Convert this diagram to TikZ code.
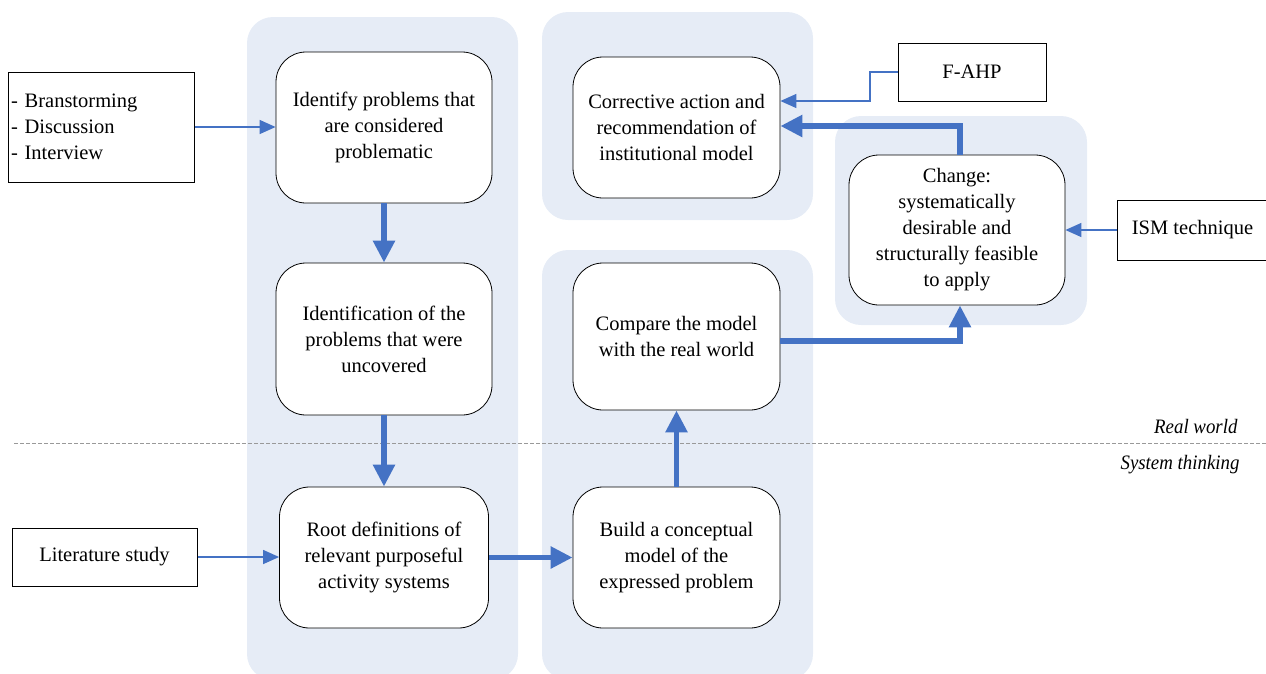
\documentclass[tikz,border=0pt]{standalone}
\usepackage{fontspec}
\setmainfont{Liberation Serif}
\usetikzlibrary{arrows.meta}
\definecolor{panelblue}{HTML}{E6ECF6}
\definecolor{flowblue}{HTML}{4472C4}
\tikzset{
  panel/.style={fill=panelblue, draw=none, rounded corners=26pt},
  proc/.style={draw=black, line width=0.8pt, fill=white, rounded corners=30pt,
    align=center, font=\fontsize{20.5}{26}\selectfont, inner sep=2pt},
  srcbox/.style={draw=black, line width=1pt, fill=white, align=center,
    font=\fontsize{20.5}{26}\selectfont, inner sep=2pt},
  thick flow/.style={draw=flowblue, line width=5.5pt,
    -{Triangle[width=21pt,length=22pt]}},
  thin flow/.style={draw=flowblue, line width=1.3pt,
    -{Triangle[width=14pt,length=16pt]}},
  zone/.style={font=\fontsize{20.5}{22}\selectfont\itshape, anchor=east},
}
\begin{document}
\begin{tikzpicture}[x=1pt,y=-1pt]
\useasboundingbox (0,0) rectangle (1266,673);
\begin{scope}
  \clip (0,0) rectangle (1266,673);
  % shaded stage panels
  \path[panel] (247,17) rectangle (518,680);
  \path[panel] (542,12) rectangle (813,220);
  \path[panel] (542,250) rectangle (813,680);
  \path[panel] (835,116) rectangle (1087,325);

  % boundary between the two worlds
  \draw[gray!80, line width=0.8pt, dash pattern=on 4pt off 2pt] (14,443) -- (1266,443);
  \node[zone] (rw) at (1241,426) {\scalebox{0.92}[1]{Real world}};
  \node[zone] (st) at (1243,465) {\scalebox{0.92}[1]{System thinking}};

  % process steps
  \node[proc, minimum width=216pt, minimum height=151pt] (A) at (384,127.5)
    {Identify problems that\\are considered\\problematic};
  \node[proc, minimum width=216pt, minimum height=152pt] (B) at (384,339)
    {Identification of the\\problems that were\\uncovered};
  \node[proc, minimum width=209pt, minimum height=141pt] (C) at (384,557.5)
    {Root definitions of\\relevant purposeful\\activity systems};
  \node[proc, minimum width=207pt, minimum height=141pt] (D) at (676.5,557.5)
    {Build a conceptual\\model of the\\expressed problem};
  \node[proc, minimum width=207pt, minimum height=147pt] (E) at (676.5,336.5)
    {Compare the model\\with the real world};
  \node[proc, minimum width=207pt, minimum height=141pt] (F) at (676.5,127.5)
    {Corrective action and\\recommendation of\\institutional model};
  \node[proc, minimum width=216pt, minimum height=150pt] (G) at (957,230)
    {Change:\\systematically\\desirable and\\structurally feasible\\to apply};

  % supporting inputs
  \node[srcbox, minimum width=186pt, minimum height=110pt, text width=180pt, align=left] (src) at (101,127)
    {- Branstorming\\- Discussion\\- Interview};
  \node[srcbox, minimum width=148pt, minimum height=58pt] (ahp) at (972,72) {F-AHP};
  \node[srcbox, minimum width=150pt, minimum height=60pt, anchor=west] (ism) at (1117,230) {ISM technique};
  \node[srcbox, minimum width=185pt, minimum height=58pt] (lit) at (104.5,557) {Literature study};

  % thin input connectors
  \draw[thin flow] (src.east) -- (A.west |- src.east);
  \draw[thin flow] (lit.east) -- (C.west |- lit.east);
  \draw[thin flow] (ism.west) -- (G.east |- ism.west);
  \coordinate (ahpbend) at (870,72);
  \draw[thin flow] (ahp.west) -- (ahpbend) -- (870,101) -- (F.east |- 0,101);

  % main flow
  \draw[thick flow] (A.south) -- (B.north);
  \draw[thick flow] (B.south) -- (C.north);
  \draw[thick flow] (C.east) -- (D.west);
  \draw[thick flow] (D.north) -- (E.south);
  \draw[thick flow] (E.east |- 0,341) -- (960,341) -- (G.south -| 960,0);
  \draw[thick flow] (G.north -| 960,0) -- (960,126) -- (F.east |- 0,126);
\end{scope}
\end{tikzpicture}
\end{document}
